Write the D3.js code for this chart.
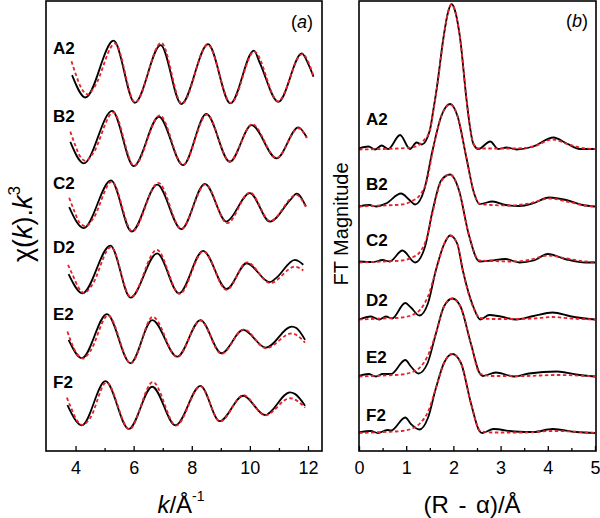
<!DOCTYPE html>
<html><head><meta charset="utf-8">
<script src="https://cdn.jsdelivr.net/npm/d3@7"></script>
<style>body{margin:0;background:#fff}svg{display:block}text{font-family:Arial,"Liberation Sans",sans-serif}</style>
</head><body><svg id="c" width="600" height="518"></svg>
<script>
// ---------- Data ----------
const seriesNames = ["A2","B2","C2","D2","E2","F2"];
const kTicks = [4,6,8,10,12];
const kMinorTicks = [5,7,9,11];
const rTicks = [0,1,2,3,4,5];
const rMinorTicks = [0.5,1.5,2.5,3.5,4.5];
// panel (a) vertical offsets (stacking) and panel (b) baselines
const offsetsA = [122.1,100.5,79.0,57.7,36.1,14.8];
const offsetsB = [30.15,24.45,18.85,13.15,7.45,1.8];

// panel (a): chi(k)k^3, [k, value]
const chiA2 = [[3.88,-1.0],[4.34,-8.2],[5.31,10.1],[6.04,-9.9],[6.93,8.7],[7.64,-10.3],[8.56,9.0],[9.33,-10.1],[10.14,6.9],[10.34,3.0],[10.98,-9.6],[11.79,6.0],[12.0,2.8],[12.19,-1.5]];
const chiA2fit = [[3.86,3.5],[4.0,-0.5],[4.2,-5.2],[4.42,-7.2],[4.65,-4.8],[5.36,9.2],[6.05,-9.8],[6.95,9.4],[7.66,-10.2],[8.55,8.8],[9.35,-10.0],[10.15,6.6],[10.97,-9.4],[11.8,5.8],[12.19,-1.2]];
const chiB2 = [[3.82,-0.9],[4.28,-7.8],[5.26,9.1],[6.0,-8.7],[6.87,7.2],[7.70,-8.4],[8.50,8.1],[9.31,-7.3],[10.06,4.5],[10.92,-6.2],[11.67,3.8],[11.96,0.5]];
const chiB2fit = [[3.82,2.4],[3.95,-1.0],[4.15,-5.5],[4.35,-7.0],[4.6,-4.6],[5.3,8.6],[6.02,-8.6],[6.9,7.6],[7.70,-8.3],[8.52,7.9],[9.31,-7.2],[10.08,4.8],[10.92,-6.1],[11.67,3.5],[11.96,0.3]];
const chiC2 = [[3.78,-0.4],[4.28,-7.2],[5.22,8.2],[5.93,-8.3],[6.81,6.8],[7.64,-7.5],[8.45,7.1],[9.20,-5.1],[9.28,-4.6],[10.0,4.1],[10.69,-5.1],[11.4,2.0],[11.61,3.9],[11.93,-0.2]];
const chiC2fit = [[3.78,2.6],[3.95,-1.5],[4.15,-5.6],[4.35,-6.6],[4.6,-4.2],[5.25,7.8],[5.95,-8.2],[6.85,7.4],[7.64,-7.4],[8.47,6.9],[9.22,-5.6],[10.0,4.3],[10.7,-4.9],[11.6,3.5],[11.93,-0.4]];
const chiD2 = [[3.76,-0.7],[4.24,-6.9],[5.20,8.5],[5.89,-8.3],[6.81,6.0],[7.56,-6.9],[8.39,6.8],[9.20,-5.5],[9.89,2.8],[10.69,-3.3],[10.9,-2.0],[11.55,3.9],[11.65,3.6],[11.84,2.3]];
const chiD2fit = [[3.74,2.3],[3.9,-1.0],[4.1,-5.0],[4.3,-6.8],[4.55,-4.5],[5.22,8.0],[5.9,-8.1],[6.8,7.1],[7.58,-7.1],[8.4,6.6],[9.2,-5.8],[9.9,3.1],[10.7,-3.6],[11.55,1.7],[11.84,0.5]];
const chiE2 = [[3.76,-0.3],[4.22,-6.2],[5.08,8.0],[5.89,-7.8],[6.64,6.1],[7.50,-5.7],[8.30,6.1],[9.02,-4.6],[9.77,2.9],[10.55,-2.8],[11.44,4.0],[11.6,3.5],[11.90,-0.3]];
const chiE2fit = [[3.72,2.4],[3.85,-1.0],[4.05,-4.8],[4.25,-6.3],[4.5,-4.0],[5.12,7.6],[5.9,-7.9],[6.66,7.1],[7.5,-5.8],[8.3,5.9],[9.02,-4.8],[9.8,3.1],[10.55,-3.0],[11.44,1.8],[11.9,-1.2]];
const chiF2 = [[3.72,0.0],[4.22,-6.5],[5.03,7.7],[5.83,-7.7],[6.64,5.9],[7.44,-6.5],[8.30,6.2],[8.96,-5.2],[9.77,3.0],[10.52,-3.2],[11.38,4.1],[11.55,3.6],[11.90,-0.2]];
const chiF2fit = [[3.7,2.4],[3.85,-1.0],[4.05,-5.0],[4.25,-6.4],[4.5,-4.2],[5.06,7.3],[5.85,-7.8],[6.66,7.4],[7.46,-6.6],[8.3,6.0],[8.97,-5.3],[9.78,3.2],[10.52,-3.3],[11.38,2.2],[11.9,-0.8]];

// panel (b): FT magnitude, [R, value]
const ftA2 = [[0,0.1],[0.2,0.3],[0.34,0.0],[0.48,0.4],[0.62,0.05],[0.87,1.45],[1.08,0.05],[1.22,0.7],[1.33,0.5],[1.5,1.9],[1.57,3.8],[1.65,6.2],[1.79,11.2],[1.88,13.6],[1.96,14.55],[2.05,13.6],[2.14,11.2],[2.28,4.9],[2.35,2.3],[2.42,0.6],[2.53,0.05],[2.78,0.8],[2.95,0.05],[3.13,0.2],[3.34,0.0],[3.69,0.3],[4.12,1.2],[4.40,0.6],[4.68,0.05],[5.0,0.05]];
const ftA2fit = [[0,0.0],[0.5,0.05],[1.0,0.15],[1.2,0.3],[1.35,0.8],[1.5,1.9],[1.57,3.7],[1.65,6.1],[1.79,11.1],[1.88,13.6],[1.96,14.5],[2.05,13.6],[2.14,11.2],[2.28,4.9],[2.35,2.3],[2.42,0.6],[2.53,0.1],[2.8,0.1],[3.3,0.1],[3.7,0.3],[4.1,1.0],[4.45,0.5],[4.8,0.1],[5.0,0.05]];
const ftB2 = [[0,0.0],[0.22,0.15],[0.36,0.0],[0.57,0.3],[0.89,1.3],[1.07,0.65],[1.19,0.2],[1.38,1.65],[1.56,5.65],[1.74,9.0],[1.93,10.25],[2.09,9.0],[2.27,5.0],[2.44,1.3],[2.55,0.25],[2.83,0.5],[3.11,0.15],[3.40,0.05],[3.68,0.3],[4.03,0.9],[4.39,0.65],[4.74,0.15],[5.0,0.0]];
const ftB2fit = [[0,0.0],[0.5,0.1],[0.9,0.2],[1.1,0.5],[1.3,1.2],[1.45,2.8],[1.56,5.5],[1.74,9.0],[1.93,10.2],[2.09,9.0],[2.27,5.0],[2.44,1.3],[2.55,0.3],[2.8,0.15],[3.2,0.1],[3.6,0.3],[4.05,0.8],[4.4,0.5],[4.8,0.1],[5.0,0.0]];
const ftC2 = [[0,0.1],[0.3,0.05],[0.5,0.25],[0.65,0.1],[0.92,1.2],[1.19,0.0],[1.4,1.6],[1.56,5.2],[1.74,8.2],[1.93,8.8],[2.12,7.2],[2.32,2.9],[2.55,0.1],[2.8,0.2],[3.1,0.35],[3.4,0.0],[3.7,0.2],[4.0,0.85],[4.4,0.3],[4.8,0.0],[5.0,0.0]];
const ftC2fit = [[0,0.0],[0.5,0.1],[0.9,0.2],[1.1,0.45],[1.3,1.1],[1.45,2.7],[1.56,5.0],[1.74,8.1],[1.93,8.8],[2.12,7.2],[2.32,2.9],[2.55,0.2],[2.8,0.15],[3.2,0.1],[3.6,0.25],[4.0,0.7],[4.4,0.4],[4.8,0.1],[5.0,0.05]];
const ftD2 = [[0,0.0],[0.25,0.3],[0.43,0.0],[0.57,0.3],[0.7,0.1],[0.98,1.65],[1.1,1.2],[1.28,0.4],[1.46,1.6],[1.63,4.95],[1.8,7.5],[1.93,8.4],[2.08,7.6],[2.2,4.9],[2.42,1.3],[2.57,0.0],[2.76,0.45],[3.0,0.3],[3.33,0.0],[3.7,0.35],[4.1,0.7],[4.5,0.3],[5.0,0.0]];
const ftD2fit = [[0,0.0],[0.5,0.1],[0.9,0.2],[1.1,0.4],[1.3,1.0],[1.46,2.3],[1.63,4.9],[1.8,7.5],[1.93,8.4],[2.08,7.6],[2.2,4.9],[2.42,1.2],[2.57,0.15],[2.8,0.05],[3.3,0.05],[3.7,0.1],[4.1,0.25],[4.5,0.1],[5.0,0.0]];
const ftE2 = [[0,0.05],[0.2,0.25],[0.36,0.0],[0.5,0.25],[0.68,0.25],[0.98,1.65],[1.1,1.0],[1.26,0.3],[1.45,1.3],[1.63,4.3],[1.8,7.0],[1.98,7.8],[2.15,7.0],[2.37,3.3],[2.56,0.3],[2.62,0.05],[2.9,0.4],[3.3,0.0],[3.6,0.3],[4.2,0.5],[4.6,0.2],[5.0,0.0]];
const ftE2fit = [[0,0.0],[0.5,0.1],[0.9,0.2],[1.1,0.4],[1.3,0.95],[1.45,2.0],[1.63,4.3],[1.8,7.0],[1.98,7.8],[2.15,7.0],[2.37,3.3],[2.56,0.3],[2.8,0.05],[3.5,0.05],[4.2,0.15],[5.0,0.0]];
const ftF2 = [[0,0.05],[0.25,0.2],[0.4,0.0],[0.6,0.3],[0.68,0.25],[0.98,1.55],[1.1,0.9],[1.28,0.35],[1.46,1.5],[1.63,4.5],[1.8,7.0],[1.98,7.9],[2.16,7.0],[2.37,3.0],[2.55,0.2],[2.61,0.0],[2.85,0.4],[3.3,0.15],[3.7,0.1],[4.1,0.4],[4.6,0.1],[5.0,0.0]];
const ftF2fit = [[0,0.0],[0.5,0.1],[0.9,0.2],[1.1,0.4],[1.3,1.0],[1.46,2.1],[1.63,4.5],[1.8,7.0],[1.98,7.9],[2.16,7.0],[2.37,3.0],[2.57,0.2],[2.8,0.05],[3.5,0.05],[4.1,0.2],[5.0,0.0]];

const expA = [chiA2,chiB2,chiC2,chiD2,chiE2,chiF2];
const fitA = [chiA2fit,chiB2fit,chiC2fit,chiD2fit,chiE2fit,chiF2fit];
const expB = [ftA2,ftB2,ftC2,ftD2,ftE2,ftF2];
const fitB = [ftA2fit,ftB2fit,ftC2fit,ftD2fit,ftE2fit,ftF2fit];

// ---------- Drawing ----------
const svg = d3.select("#c");
const yTop = 1, yBot = 451;
const pa = {x0:46, x1:322};
const pb = {x0:359, x1:596};
const xA = d3.scaleLinear().domain([3,12.5]).range([pa.x0+0.5, pa.x1+0.5]);
const yA = d3.scaleLinear().domain([0,145]).range([yBot, yTop]);
const xB = d3.scaleLinear().domain([0,5]).range([pb.x0, pb.x1-1]);
const yB = d3.scaleLinear().domain([0,45]).range([yBot, yTop]);
const RED = "#e8202a";

const defs = svg.append("defs");
defs.append("clipPath").attr("id","clipA").append("rect").attr("x",pa.x0).attr("y",yTop).attr("width",pa.x1-pa.x0).attr("height",yBot-yTop);
defs.append("clipPath").attr("id","clipB").append("rect").attr("x",pb.x0).attr("y",yTop).attr("width",pb.x1-pb.x0).attr("height",yBot-yTop);

function drawPanel(clip, xs, ys, exps, fits, offsets){
  const g = svg.append("g").attr("clip-path", `url(#${clip})`);
  exps.forEach((d,i)=>{
    const line = d3.line().x(p=>xs(p[0])).y(p=>ys(p[1]+offsets[i])).curve(d3.curveMonotoneX);
    g.append("path").attr("d", line(d)).attr("fill","none").attr("stroke","#000").attr("stroke-width",1.8);
    g.append("path").attr("d", line(fits[i])).attr("fill","none").attr("stroke",RED).attr("stroke-width",1.8).attr("stroke-dasharray","3.5,2.5");
  });
}
drawPanel("clipA", xA, yA, expA, fitA, offsetsA);
drawPanel("clipB", xB, yB, expB, fitB, offsetsB);

// axes
function axis(xs, major, minor){
  const gM = svg.append("g").attr("transform",`translate(0,${yBot})`)
    .call(d3.axisBottom(xs).tickValues(major).tickFormat(d3.format("d")).tickSizeInner(-5).tickSizeOuter(0).tickPadding(10));
  gM.select(".domain").remove();
  gM.selectAll("line").attr("stroke","#000").attr("stroke-width",1.3);
  gM.selectAll("text").attr("font-size",18).attr("fill","#000").style("font-family","Arial, 'Liberation Sans', sans-serif");
  const gm = svg.append("g").attr("transform",`translate(0,${yBot})`)
    .call(d3.axisBottom(xs).tickValues(minor).tickFormat("").tickSizeInner(-3).tickSizeOuter(0));
  gm.select(".domain").remove();
  gm.selectAll("line").attr("stroke","#000").attr("stroke-width",1.3);
}
axis(xA, kTicks, kMinorTicks);
axis(xB, rTicks, rMinorTicks);

// frames
[pa,pb].forEach(p=>{
  svg.append("rect").attr("x",p.x0).attr("y",yTop).attr("width",p.x1-p.x0).attr("height",yBot-yTop)
    .attr("fill","none").attr("stroke","#000").attr("stroke-width",1.6);
});

// series labels
const labAy = [54,122,189,253,320,388];
const labBy = [125,190,246,306,363,421];
seriesNames.forEach((n,i)=>{
  svg.append("text").attr("x",53).attr("y",labAy[i]).attr("font-size",17).attr("font-weight","bold").text(n);
  svg.append("text").attr("x",366).attr("y",labBy[i]).attr("font-size",17).attr("font-weight","bold").text(n);
});

// panel tags
const ta = svg.append("text").attr("x",313).attr("y",28).attr("text-anchor","end").attr("font-size",18);
ta.append("tspan").text("(");ta.append("tspan").attr("font-style","italic").text("a");ta.append("tspan").text(")");
const tb = svg.append("text").attr("x",588).attr("y",27).attr("text-anchor","end").attr("font-size",18);
tb.append("tspan").text("(");tb.append("tspan").attr("font-style","italic").text("b");tb.append("tspan").text(")");

// axis titles
const xt = svg.append("text").attr("x",181).attr("y",513).attr("text-anchor","middle").attr("font-size",24);
xt.append("tspan").attr("font-style","italic").text("k");
xt.append("tspan").text("/Å");
xt.append("tspan").attr("font-size",14).attr("dy",-12).text("-1");

svg.append("text").attr("x",472).attr("y",513).attr("text-anchor","middle").attr("font-size",24)
  .attr("word-spacing",3).text("(R - α)/Å");

const yt = svg.append("text").attr("transform","translate(32,224) rotate(-90)").attr("text-anchor","middle").attr("font-size",27);
yt.append("tspan").text("χ(");
yt.append("tspan").attr("font-style","italic").text("k");
yt.append("tspan").text(").");
yt.append("tspan").attr("font-style","italic").text("k");
yt.append("tspan").attr("font-size",17).attr("dy",-12).text("3");

svg.append("text").attr("transform","translate(348,224) rotate(-90)").attr("text-anchor","middle").attr("font-size",20).text("FT Magnitude");
</script></body></html>
